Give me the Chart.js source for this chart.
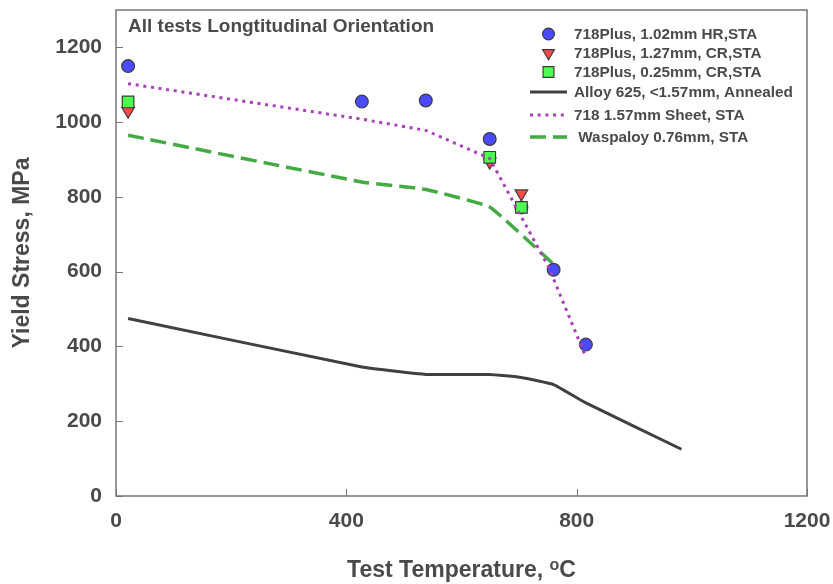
<!DOCTYPE html>
<html>
<head>
<meta charset="utf-8">
<title>Yield Stress vs Test Temperature</title>
<script src="https://cdn.jsdelivr.net/npm/chart.js@4.4.0/dist/chart.umd.min.js"></script>
<style>
  html, body { margin: 0; padding: 0; background: #fff; }
</style>
</head>
<body>
<canvas id="yieldChart" width="833" height="584"></canvas>
<script>
// Data (temperature in C, yield stress in MPa)
const plus102Temp  = [21, 427, 538, 649, 704, 760, 816];
const plus102Yield = [1150, 1055, 1058, 955, 772, 605, 405];

const plus127Temp  = [21, 649, 704];
const plus127Yield = [1030, 894, 809];

const plus025Temp  = [21, 649, 704];
const plus025Yield = [1054, 906, 772];

const alloy625Temp  = [21, 427, 538, 649, 704, 760, 816, 982];
const alloy625Yield = [475, 345, 325, 325, 317, 298, 249, 125];

const sheet718Temp  = [21, 427, 538, 649, 752, 815];
const sheet718Yield = [1103, 1008, 978, 903, 610, 375];

const waspTemp  = [21, 427, 538, 649, 760];
const waspYield = [965, 840, 820, 773, 620];

const seriesLabels = [
    '718Plus, 1.02mm HR,STA',
    '718Plus, 1.27mm, CR,STA',
    '718Plus, 0.25mm, CR,STA',
    'Alloy 625, <1.57mm, Annealed',
    '718 1.57mm Sheet, STA',
    ' Waspaloy 0.76mm, STA'
];

const xTicks = [0, 400, 800, 1200];
const yTicks = [0, 200, 400, 600, 800, 1000, 1200];

const FONT = "'Liberation Sans', Arial, sans-serif";
const TEXT = '#4a4a4a';
const FRAME = '#767676';

function toPoints(xs, ys) {
    return xs.map((x, i) => ({ x: x, y: ys[i] }));
}

// frame, inward ticks, in-plot note, legend and x title
const decorations = {
    id: 'decorations',
    afterDatasetsDraw(chart) {
        const ctx = chart.ctx;
        const area = chart.chartArea;
        const xs = chart.scales.x;
        const ys = chart.scales.y;
        ctx.save();

        // box around the plot
        ctx.strokeStyle = FRAME;
        ctx.lineWidth = 1.5;
        ctx.strokeRect(area.left, area.top, area.right - area.left, area.bottom - area.top);

        // inward tick marks
        ctx.beginPath();
        xTicks.forEach(v => {
            const px = Math.round(xs.getPixelForValue(v)) + 0.5;
            ctx.moveTo(px, area.bottom);
            ctx.lineTo(px, area.bottom - 7);
        });
        yTicks.forEach(v => {
            const py = Math.round(ys.getPixelForValue(v)) + 0.5;
            ctx.moveTo(area.left, py);
            ctx.lineTo(area.left + 7, py);
        });
        ctx.lineWidth = 1;
        ctx.stroke();

        // note in the top left corner
        ctx.fillStyle = TEXT;
        ctx.font = 'bold 19px ' + FONT;
        ctx.textBaseline = 'middle';
        ctx.textAlign = 'left';
        ctx.fillText('All tests Longtitudinal Orientation', area.left + 12, 27);

        // legend
        const rowY = [34, 53, 72, 92, 115, 137];
        chart.data.datasets.forEach((ds, i) => {
            const y = rowY[i];
            if (ds.showLine) {
                ctx.save();
                ctx.strokeStyle = ds.borderColor;
                ctx.lineWidth = ds.borderWidth;
                ctx.setLineDash(ds.borderDash || []);
                ctx.beginPath();
                ctx.moveTo(530, y);
                ctx.lineTo(567, y);
                ctx.stroke();
                ctx.restore();
            } else {
                ctx.save();
                ctx.fillStyle = ds.pointBackgroundColor;
                ctx.strokeStyle = ds.pointBorderColor;
                ctx.lineWidth = ds.pointBorderWidth;
                Chart.helpers.drawPoint(ctx, {
                    pointStyle: ds.pointStyle,
                    rotation: ds.pointRotation || 0,
                    radius: ds.pointRadius - 0.5,
                    borderWidth: ds.pointBorderWidth
                }, 548.5, y);
                ctx.restore();
            }
            ctx.fillStyle = TEXT;
            ctx.font = 'bold 15.3px ' + FONT;
            ctx.textBaseline = 'middle';
            ctx.fillText(ds.label, 574, y + 1);
        });

        // x axis title with superscript o
        const main = 'Test Temperature, ';
        ctx.font = 'bold 23px ' + FONT;
        const wMain = ctx.measureText(main).width;
        const wC = ctx.measureText('C').width;
        ctx.font = 'bold 16px ' + FONT;
        const wO = ctx.measureText('o').width;
        const total = wMain + wO + wC;
        const x0 = (area.left + area.right) / 2 - total / 2;
        ctx.textBaseline = 'alphabetic';
        ctx.font = 'bold 23px ' + FONT;
        ctx.fillText(main, x0, 577);
        ctx.font = 'bold 16px ' + FONT;
        ctx.fillText('o', x0 + wMain, 570);
        ctx.font = 'bold 23px ' + FONT;
        ctx.fillText('C', x0 + wMain + wO, 577);

        ctx.restore();
    }
};

const config = {
    type: 'scatter',
    data: {
        datasets: [
            {
                label: seriesLabels[0],
                data: toPoints(plus102Temp, plus102Yield),
                pointStyle: 'circle',
                pointRadius: 6.4,
                pointBackgroundColor: '#4a4aff',
                pointBorderColor: '#3c3c3c',
                pointBorderWidth: 1.2,
                showLine: false,
                order: 3
            },
            {
                label: seriesLabels[1],
                data: toPoints(plus127Temp, plus127Yield),
                pointStyle: 'triangle',
                pointRotation: 180,
                pointRadius: 7.3,
                pointBackgroundColor: '#ff4a4a',
                pointBorderColor: '#3c3c3c',
                pointBorderWidth: 1.2,
                showLine: false,
                order: 2
            },
            {
                label: seriesLabels[2],
                data: toPoints(plus025Temp, plus025Yield),
                pointStyle: 'rect',
                pointRadius: 8.2,
                pointBackgroundColor: '#4cff4c',
                pointBorderColor: '#3c3c3c',
                pointBorderWidth: 1.2,
                showLine: false,
                order: 1
            },
            {
                label: seriesLabels[3],
                data: toPoints(alloy625Temp, alloy625Yield),
                showLine: true,
                borderColor: '#404040',
                borderWidth: 3,
                pointRadius: 0,
                tension: 0.1,
                order: 5
            },
            {
                label: seriesLabels[4],
                data: toPoints(sheet718Temp, sheet718Yield),
                showLine: true,
                borderColor: '#a840b8',
                borderWidth: 3,
                borderDash: [3, 4.7],
                pointRadius: 0,
                tension: 0,
                order: 0
            },
            {
                label: seriesLabels[5],
                data: toPoints(waspTemp, waspYield),
                showLine: true,
                borderColor: '#44aa44',
                borderWidth: 3.5,
                borderDash: [16, 7],
                pointRadius: 0,
                tension: 0.1,
                order: 4
            }
        ]
    },
    options: {
        responsive: false,
        animation: false,
        layout: { padding: { top: 10, right: 26, left: 0, bottom: 0 } },
        plugins: {
            legend: { display: false },
            tooltip: { enabled: false }
        },
        scales: {
            x: {
                type: 'linear',
                min: 0,
                max: 1200,
                afterBuildTicks: s => { s.ticks = xTicks.map(v => ({ value: v })); },
                afterFit: s => {
                    s.height = 88;
                    s.paddingLeft = 0;
                    s.paddingRight = 0;
                },
                grid: { display: false, drawTicks: false },
                border: { display: false },
                ticks: {
                    font: { family: FONT, size: 21, weight: 'bold' },
                    color: TEXT,
                    padding: 13,
                    maxRotation: 0,
                    autoSkip: false,
                    callback: v => String(v)
                },
                title: { display: false }
            },
            y: {
                type: 'linear',
                min: 0,
                max: 1300,
                afterBuildTicks: s => { s.ticks = yTicks.map(v => ({ value: v })); },
                afterFit: s => {
                    s.width = 116;
                    s.paddingTop = 0;
                    s.paddingBottom = 0;
                },
                grid: { display: false, drawTicks: false },
                border: { display: false },
                ticks: {
                    font: { family: FONT, size: 21, weight: 'bold' },
                    color: TEXT,
                    padding: 14,
                    autoSkip: false,
                    callback: v => String(v)
                },
                title: {
                    display: true,
                    text: 'Yield Stress, MPa',
                    font: { family: FONT, size: 23, weight: 'bold' },
                    color: TEXT,
                    padding: { top: 9, bottom: 0 }
                }
            }
        }
    },
    plugins: [decorations]
};

const yieldChart = new Chart(document.getElementById('yieldChart'), config);
</script>
</body>
</html>
